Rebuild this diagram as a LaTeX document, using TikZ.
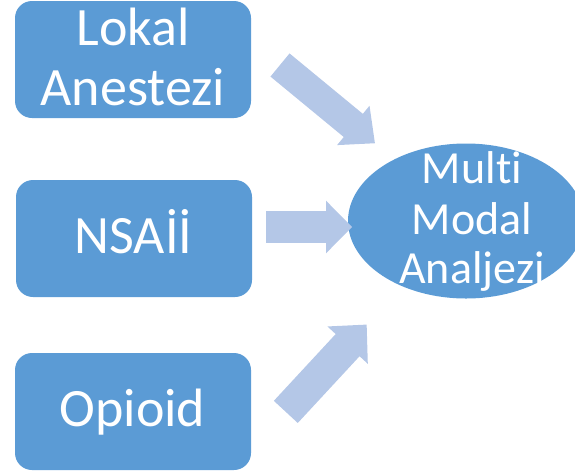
\documentclass[tikz,border=0pt]{standalone}
\usepackage{fontspec}
\setmainfont{Carlito}[Ligatures=NoCommon]
\definecolor{boxblue}{HTML}{5B9BD5}
\definecolor{arrowblue}{HTML}{B4C7E7}
\usetikzlibrary{shapes.geometric}
\tikzset{
  boxnode/.style={fill=boxblue, rounded corners=17pt, minimum width=236pt, minimum height=117pt, inner sep=0pt, draw=none},
  ovalnode/.style={fill=boxblue, ellipse, minimum width=236pt, minimum height=155pt, inner sep=0pt, draw=none},
  bigtext/.style={text=white, font=\fontsize{54}{61}\selectfont, anchor=base, inner sep=0pt},
  ovaltext/.style={text=white, font=\fontsize{46}{50}\selectfont, anchor=base, inner sep=0pt},
  blockarrow/.style={fill=arrowblue, draw=none}
}
% #1 tail point, #2 angle, #3 length, #4 shaft half width, #5 head half width, #6 head length
\newcommand\myblockarrow[6]{%
  \begin{scope}[shift={(#1)}, rotate=#2]
    \fill[blockarrow] (0,-#4) -- ({#3-#6},-#4) -- ({#3-#6},-#5) -- (#3,0)
      -- ({#3-#6},#5) -- ({#3-#6},#4) -- (0,#4) -- cycle;
  \end{scope}}
\begin{document}
\begin{tikzpicture}[x=1pt, y=-1pt]
\useasboundingbox (0,0) rectangle (575,472);
\clip (0,0) rectangle (575,472);
% boxes
\node[boxnode] (lokal) at (133,59.5) {};
\node[boxnode] (nsaii) at (134,238.5) {};
\node[boxnode] (opioid) at (133,411.5) {};
% ellipse
\node[ovalnode] (multi) at (466,221) {};
% box texts
\node[bigtext] (t1a) at (133,45) {Lokal};
\node[bigtext] (t1b) at (133,105.5) {Anestezi};
\node[bigtext] (t2) at (133.5,253) {NSAİİ};
\node[bigtext] (t3) at (132.5,426.5) {Opioid};
% ellipse texts
\node[ovaltext] (m1) at (472,183) {Mult\kern0pt i};
\node[ovaltext] (m2) at (472,234) {Modal};
\node[ovaltext] (m3) at (472,283.5) {Analjezi};
% block arrows
\myblockarrow{280,65}{-39.5}{123}{15}{25.5}{28}
\myblockarrow{266,227}{0}{86}{15.8}{26.3}{26}
\myblockarrow{285.8,411.9}{47.2}{119}{16.3}{27.5}{28}
\end{tikzpicture}
\end{document}
